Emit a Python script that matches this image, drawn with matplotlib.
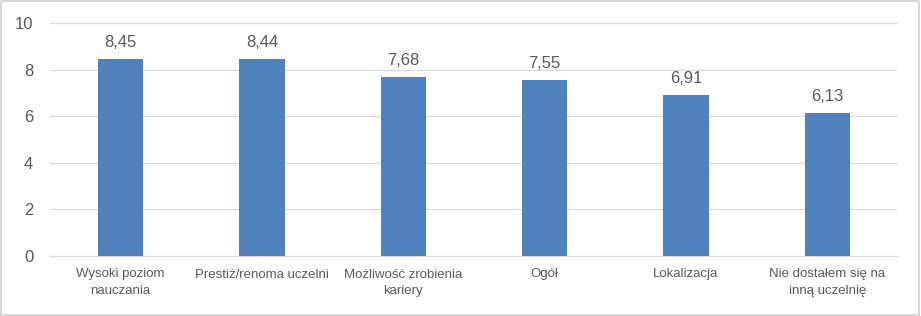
import matplotlib
matplotlib.use("Agg")
import matplotlib.pyplot as plt
from matplotlib.patches import Rectangle

categories = ["Wysoki poziom\nnauczania", "Prestiż/renoma uczelni", "Możliwość zrobienia\nkariery",
              "Ogół", "Lokalizacja", "Nie dostałem się na\ninną uczelnię"]
values = [8.45, 8.44, 7.68, 7.55, 6.91, 6.13]
value_labels = ["8,45", "8,44", "7,68", "7,55", "6,91", "6,13"]
yticks = [0, 2, 4, 6, 8, 10]

plt.rcParams['font.family'] = ['Liberation Sans', 'DejaVu Sans']
txt = "#595959"

fig = plt.figure(figsize=(9.21, 3.16), dpi=100)
ax = fig.add_axes([50/921, 60/316, 848/921, 233/316])
x = list(range(len(categories)))
ax.bar(x, values, width=0.32, color="#4F81BD", zorder=3)
for xi, v, lab in zip(x, values, value_labels):
    ax.text(xi, v + 0.4, lab, ha="center", va="bottom", fontsize=12, color=txt)
ax.set_xlim(-0.5, len(categories) - 0.5)
ax.set_ylim(0, 10)
ax.set_yticks(yticks)
ax.set_yticklabels([str(t) for t in yticks], fontsize=12, color=txt)
ax.set_xticks(x)
ax.set_xticklabels(categories, fontsize=9.5, color=txt, linespacing=1.55)
ax.grid(axis="y", color="#D9D9D9", linewidth=0.9, zorder=0)
for s in ["top", "right", "left"]:
    ax.spines[s].set_visible(False)
ax.spines["bottom"].set_color("#D9D9D9")
ax.tick_params(axis="both", length=0)
ax.tick_params(axis="y", pad=12)
ax.tick_params(axis="x", pad=9)
fig.patches.append(Rectangle((0.001, 0.002), 0.997, 0.995, transform=fig.transFigure,
                             fill=False, edgecolor="#D9D9D9", linewidth=1.5))
fig.savefig("out.png", dpi=100)
